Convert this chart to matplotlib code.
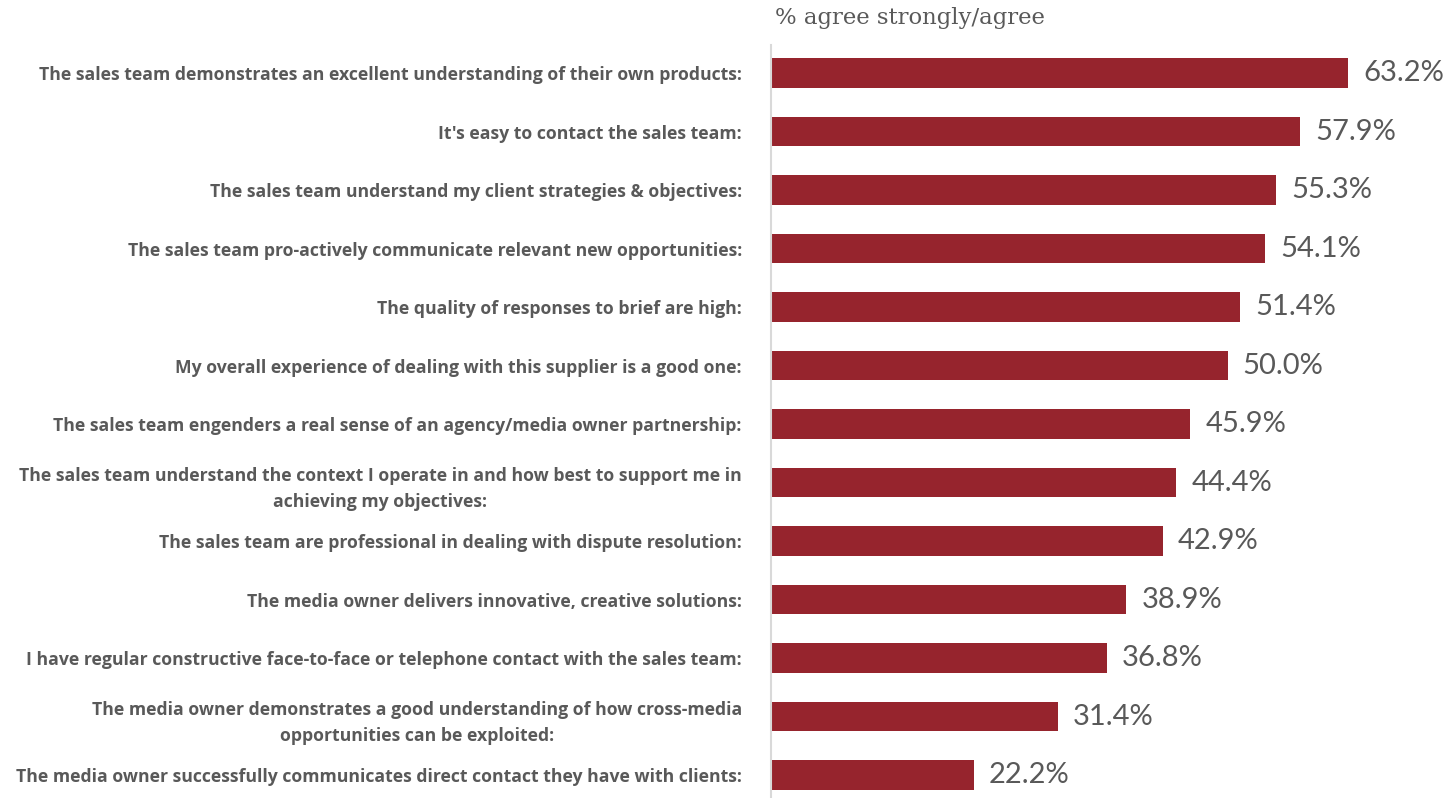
import matplotlib.pyplot as plt

statements = [
    "The sales team demonstrates an excellent understanding of their own products:",
    "It's easy to contact the sales team:",
    "The sales team understand my client strategies & objectives:",
    "The sales team pro-actively communicate relevant new opportunities:",
    "The quality of responses to brief are high:",
    "My overall experience of dealing with this supplier is a good one:",
    "The sales team engenders a real sense of an agency/media owner partnership:",
    "The sales team understand the context I operate in and how best to support me in\nachieving my objectives:",
    "The sales team are professional in dealing with dispute resolution:",
    "The media owner delivers innovative, creative solutions:",
    "I have regular constructive face-to-face or telephone contact with the sales team:",
    "The media owner demonstrates a good understanding of how cross-media\nopportunities can be exploited:",
    "The media owner successfully communicates direct contact they have with clients:",
]
agree_pct = [63.2, 57.9, 55.3, 54.1, 51.4, 50.0, 45.9, 44.4, 42.9, 38.9, 36.8, 31.4, 22.2]

bar_color = "#96242d"
text_color = "#595959"

W, H = 1449, 798
fig = plt.figure(figsize=(W / 100, H / 100), dpi=100)
ax = fig.add_axes([771 / W, 0, 1 - 771 / W, 1 - 45 / H])

pos = list(range(len(agree_pct)))
ax.barh(pos, agree_pct, height=0.51, color=bar_color)
ax.set_ylim(12.393, -0.479)
ax.set_xlim(0, 74.26)

# value labels just past the bar ends
for y, v in zip(pos, agree_pct):
    ax.annotate(f"{v:.1f}%", (v, y), xytext=(11, 0), textcoords="offset points",
                va="center", ha="left", fontsize=21, color=text_color, family="Lato")

ax.set_yticks(pos)
ax.set_yticklabels(statements, fontsize=12.7, fontweight="bold", color=text_color,
                   family="Open Sans", multialignment="center", linespacing=1.6)
ax.tick_params(axis="y", length=0, pad=21)
ax.set_xticks([])
for side in ["top", "right", "bottom"]:
    ax.spines[side].set_visible(False)
ax.spines["left"].set_color("#d9d9d9")
ax.spines["left"].set_linewidth(1.5)

fig.text(775 / W, 1 - 18 / H, "% agree strongly/agree", fontsize=16.4,
         color=text_color, family="DejaVu Serif", va="center", ha="left")

fig.savefig("out.png", dpi=100)
